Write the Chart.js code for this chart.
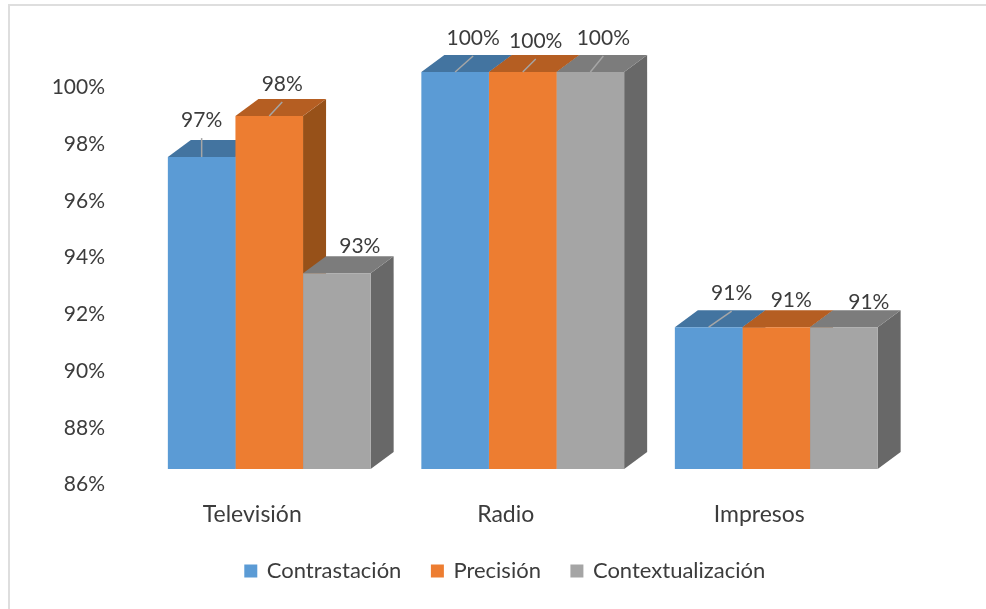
<!DOCTYPE html>
<html>
<head>
<meta charset="utf-8">
<script src="https://cdn.jsdelivr.net/npm/chart.js@4"></script>
<style>
  html, body { margin: 0; background: #fff; overflow: hidden; }
  #frame { position: absolute; left: 8px; top: 4px; width: 986px; height: 609px; border-left: 2px solid #dedede; border-top: 2px solid #dedede; }
  canvas { position: absolute; left: 0; top: 0; }
</style>
</head>
<body>
<div id="frame"></div>
<canvas id="chart" width="986" height="609"></canvas>
<script>
const categories = ['Televisión', 'Radio', 'Impresos'];
const contrastacion = [97, 100, 91];
const precision = [98.45, 100, 91];
const contextualizacion = [92.9, 100, 91];
const yTicks = [86, 88, 90, 92, 94, 96, 98, 100];

const textColor = '#3c3c3c';
const fontName = 'Lato';

// depth of the fake 3D box
const depthX = 23;
const depthY = 17;

// top and side shades for each series
const shades = [
  { top: '#4374a0', side: '#386188' },
  { top: '#b55e22', side: '#975119' },
  { top: '#7c7c7c', side: '#686868' },
];

// data labels were moved by hand in the original, one offset per bar
const labelShift = [
  [[0, -37], [18, -34], [23, -34]],
  [[13, -32], [13, -31], [15, -27]],
  [[23, -27], [13, -34], [25, -25]],
];
const leaders = [
  [true, true, true],
  [true, true, false],
  [false, true, false],
];

function poly(ctx, color, pts) {
  ctx.fillStyle = color;
  ctx.beginPath();
  pts.forEach((p, i) => (i ? ctx.lineTo(p[0], p[1]) : ctx.moveTo(p[0], p[1])));
  ctx.closePath();
  ctx.fill();
}

const box3d = {
  id: 'box3d',
  beforeDatasetsDraw(chart) {
    const ctx = chart.ctx;
    chart.data.labels.forEach((c, i) => {
      chart.data.datasets.forEach((ds, d) => {
        const bar = chart.getDatasetMeta(d).data[i];
        const l = bar.x - bar.width / 2;
        const r = bar.x + bar.width / 2;
        poly(ctx, shades[d].side, [[r, bar.y], [r + depthX, bar.y - depthY], [r + depthX, bar.base - depthY], [r, bar.base]]);
        poly(ctx, shades[d].top, [[l, bar.y], [l + depthX, bar.y - depthY], [r + depthX, bar.y - depthY], [r, bar.y]]);
      });
    });
  },
  afterDatasetsDraw(chart) {
    const ctx = chart.ctx;
    ctx.save();
    ctx.textAlign = 'center';
    ctx.textBaseline = 'middle';
    ctx.font = '21px ' + fontName;
    chart.data.datasets.forEach((ds, d) => {
      chart.getDatasetMeta(d).data.forEach((bar, i) => {
        const lx = bar.x + labelShift[d][i][0];
        const ly = bar.y + labelShift[d][i][1];
        if (leaders[d][i]) {
          ctx.strokeStyle = '#a6a6a6';
          ctx.lineWidth = 1.5;
          ctx.beginPath();
          ctx.moveTo(bar.x, bar.y);
          ctx.lineTo(lx, ly + 18);
          ctx.stroke();
        }
        ctx.fillStyle = textColor;
        ctx.fillText(Math.round(ds.data[i]) + '%', lx, ly);
      });
    });
    ctx.restore();
  },
};

new Chart(document.getElementById('chart'), {
  type: 'bar',
  data: {
    labels: categories,
    datasets: [
      { label: 'Contrastación', data: contrastacion, backgroundColor: '#5b9bd5', base: yTicks[0] },
      { label: 'Precisión', data: precision, backgroundColor: '#ed7d31', base: yTicks[0] },
      { label: 'Contextualización', data: contextualizacion, backgroundColor: '#a5a5a5', base: yTicks[0] },
    ],
  },
  options: {
    responsive: false,
    animation: false,
    categoryPercentage: 0.8,
    barPercentage: 1,
    layout: { padding: { left: 25, right: 0, top: 72, bottom: 17 } },
    scales: {
      x: {
        grid: { display: false, drawTicks: false },
        border: { display: false },
        ticks: { color: textColor, font: { family: fontName, size: 23 }, labelOffset: -17, padding: 32, maxRotation: 0 },
        afterFit(scale) { scale.height = 60; },
      },
      y: {
        min: 86,
        max: 100,
        grid: { display: false, drawTicks: false },
        border: { display: false },
        afterBuildTicks(scale) { scale.ticks = yTicks.map(v => ({ value: v })); },
        ticks: { color: textColor, font: { family: fontName, size: 21 }, labelOffset: 15.5, padding: 37.5, callback: v => v + '%' },
        afterFit(scale) { scale.width = 117.5; },
      },
      // empty axis, only keeps the plot clear of the right edge while the legend stays centred
      spacer: {
        axis: 'y',
        position: 'right',
        grid: { display: false, drawTicks: false },
        border: { display: false },
        ticks: { display: false },
        afterFit(scale) { scale.width = 83; },
      },
    },
    plugins: {
      legend: {
        position: 'bottom',
        // point style so the text sits closer to the square than the default gap
        labels: { color: textColor, font: { family: fontName, size: 22 }, usePointStyle: true, pointStyle: 'rect', boxWidth: 10, boxHeight: 13, padding: 31 },
      },
      tooltip: { enabled: false },
    },
  },
  plugins: [box3d],
});
</script>
</body>
</html>
